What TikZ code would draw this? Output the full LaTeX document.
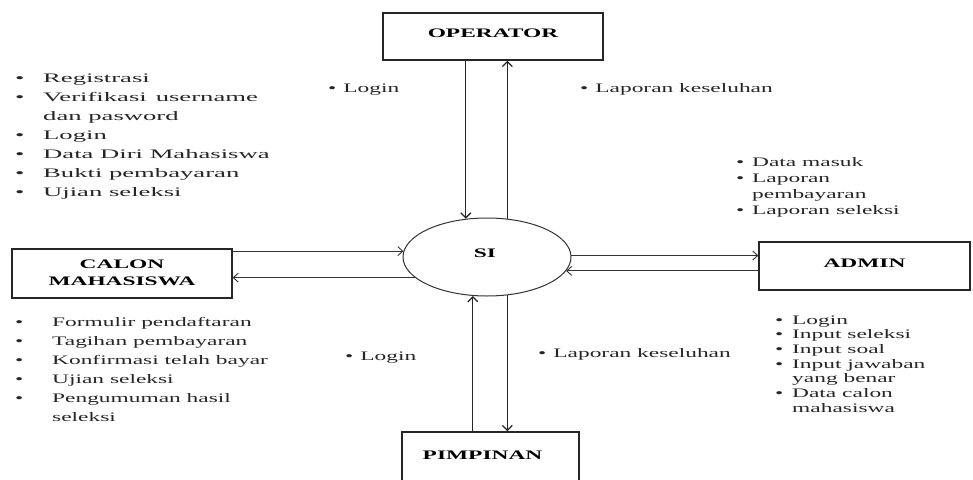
\documentclass[tikz,border=0pt]{standalone}
\usepackage{fontspec}
\setmainfont{Liberation Serif}
\newfontfamily\lf[FakeStretch=1.8]{Liberation Serif}
\newfontfamily\lfw[FakeStretch=2.05]{Liberation Serif}
\usetikzlibrary{arrows.meta,shapes.geometric}
\begin{document}
\begin{tikzpicture}[x=1pt,y=-1pt,
  box/.style={draw=black!85,line width=1.3pt,inner sep=0pt,font=\lf\bfseries\fontsize{13}{17}\selectfont,align=center},
  arr/.style={draw=black!85,line width=1.3pt,-{Straight Barb[length=5pt,width=10pt]}},
  harr/.style={draw=black!80,line width=0.9pt,-{Straight Barb[length=5pt,width=9pt]}},
  lst/.style={anchor=base west,inner sep=0pt,text=black!85,font=\lf\fontsize{13}{15}\selectfont}]
\useasboundingbox (0,0) rectangle (973,479);
\fill[white] (0,0) rectangle (973,479);
\clip (0,0) rectangle (973,479);

% entities
\node[box,minimum width=220pt,minimum height=47pt] (op) at (493,36.5) {\raisebox{6pt}{OPERATOR}};
\node[box,minimum width=220pt,minimum height=49pt] (cm) at (122,273.5) {\raisebox{7pt}{\begin{tabular}{@{}c@{}}CALON\\MAHASISWA\end{tabular}}};
\node[box,minimum width=211pt,minimum height=48pt] (ad) at (864.5,266) {\raisebox{6pt}{ADMIN}};
\node[box,minimum width=177pt,minimum height=58pt] (pim) at (490.5,461) {\hspace*{-16pt}\raisebox{11pt}{PIMPINAN}};
\node[draw=black!80,line width=1pt,ellipse,minimum width=168pt,minimum height=78pt,inner sep=0pt,font=\lf\bfseries\fontsize{13}{15}\selectfont] (si) at (487,257) {\hspace*{-4pt}\raisebox{7pt}{SI}};

% flows
\draw[arr] (si.119 |- op.south) -- (si.119);
\draw[arr] (si.62) -- (si.62 |- op.south);
\draw[arr] (si.250 |- pim.north) -- (si.250);
\draw[arr] (si.298) -- (si.298 |- pim.north);
\draw[harr] (cm.east |- si.176) -- (si.176);
\draw[harr] (si.196.5) -- (si.196.5 -| cm.east);
\draw[harr] (si.1) -- (si.1 -| ad.west);
\draw[harr] (si.-10 -| ad.west) -- (si.-10);

% data lists
\node[lst,font=\lfw\fontsize{13}{19}\selectfont] (l1) at (15,82) {%
\begin{tabular}[t]{@{}p{28pt}@{}l@{}}
• & Registrasi\\
• & Verifikasi\hspace{9pt}username\\
  & dan pasword\\
• & Login\\
• & Data Diri Mahasiswa\\
• & Bukti pembayaran\\
• & Ujian seleksi
\end{tabular}};

\node[lst] (l2) at (15,326) {\fontsize{13}{19}\selectfont
\begin{tabular}[t]{@{}p{37pt}@{}l@{}}
• & Formulir pendaftaran\\
• & Tagihan pembayaran\\
• & Konfirmasi telah bayar\\
• & Ujian seleksi\\
• & Pengumuman hasil\\
  & seleksi
\end{tabular}};

\node[lst] (l3) at (736,166) {\fontsize{13}{16}\selectfont
\begin{tabular}[t]{@{}p{16pt}@{}l@{}}
• & Data masuk\\
• & Laporan\\
  & pembayaran\\
• & Laporan seleksi
\end{tabular}};

\node[lst] (l4) at (775,324) {\fontsize{13}{14.7}\selectfont
\begin{tabular}[t]{@{}p{17pt}@{}l@{}}
• & Login\\
• & Input seleksi\\
• & Input soal\\
• & Input jawaban\\
  & yang benar\\
• & Data calon\\
  & mahasiswa
\end{tabular}};

\node[lst] (t1) at (328,92) {•\hspace{7pt}Login};
\node[lst] (t2) at (580,92) {•\hspace{7pt}Laporan keseluhan};
\node[lst] (t3) at (345,360) {•\hspace{7pt}Login};
\node[lst] (t4) at (538,357) {•\hspace{7pt}Laporan keseluhan};
\end{tikzpicture}
\end{document}
